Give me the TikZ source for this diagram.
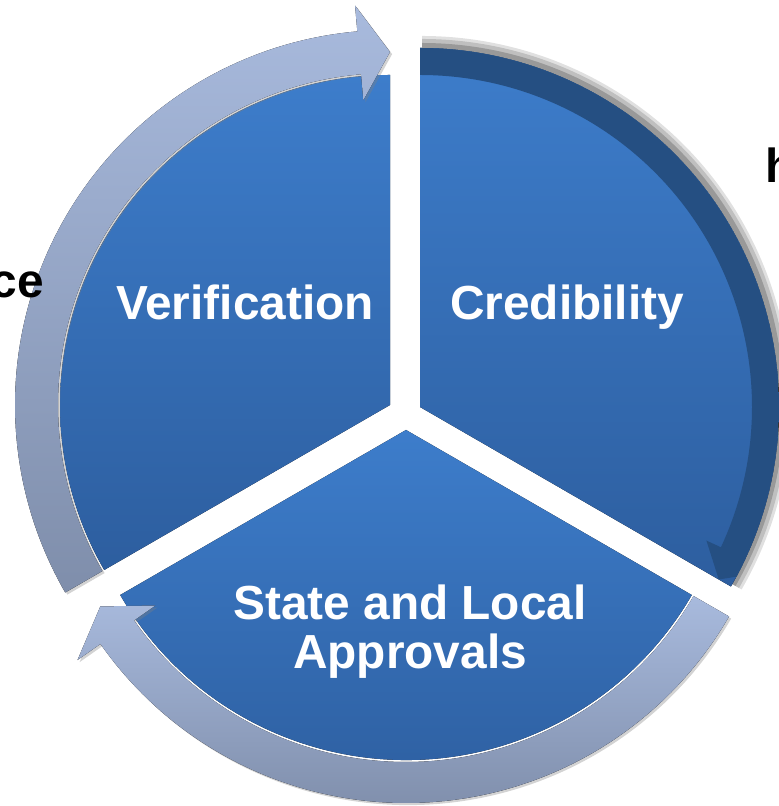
\documentclass[tikz,border=0pt]{standalone}
\usepackage{fontspec}
\setmainfont{Liberation Sans}
\usepackage{tikz}
\usetikzlibrary{calc,shadows}

\definecolor{piecetop}{HTML}{3D7DCB}
\definecolor{piecebot}{HTML}{2D5E9F}
\definecolor{ringtop}{HTML}{A8BADD}
\definecolor{ringbot}{HTML}{7F8EAB}
\definecolor{darkring}{HTML}{254F82}

\begin{document}
\begin{tikzpicture}[x=0.025cm, y=0.025cm,
	piece/.style={top color=piecetop, bottom color=piecebot},
	ring/.style={top color=ringtop, bottom color=ringbot, drop shadow={shadow xshift=1.5pt, shadow yshift=-1.5pt, opacity=0.35}},
	piecetext/.style={text=white, font=\bfseries\fontsize{34}{35}\selectfont, align=center, inner sep=0pt},
	edgetext/.style={text=black, font=\bfseries\fontsize{34}{35}\selectfont, inner sep=0pt}]
	\useasboundingbox (0,0) rectangle (778,806);
	%apexes of the three pieces
	\coordinate (ver) at (390,401);
	\coordinate (cre) at (420,399);
	\coordinate (sta) at (406,376);
	
	%Verification piece
	\begin{scope}[shift={(ver)}]
	\fill[piece] (0,0) -- (90:330) arc[start angle=90, end angle=210, radius=330] -- cycle;
	\fill[ring] (210:332) arc[start angle=210, end angle=95, radius=332] -- (95:306) -- (90:353) -- (95:401) -- (95:375) arc[start angle=95, end angle=210, radius=375] -- cycle;
	\end{scope}
	
	%State and Local piece
	\begin{scope}[shift={(sta)}]
	\fill[piece] (0,0) -- (210:330) arc[start angle=210, end angle=330, radius=330] -- cycle;
	\fill[ring] (330:332) arc[start angle=330, end angle=215, radius=332] -- (215:306) -- (210:353) -- (215:401) -- (215:373) arc[start angle=215, end angle=330, radius=373] -- cycle;
	\end{scope}
	
	%Credibility piece (lifted, with shadow)
	\begin{scope}[shift={(cre)}]
	\foreach \r/\o in {369/0.12, 366/0.15, 362/0.2}
		\fill[black, opacity=\o] (2,2) -- ++(-30:\r) arc[start angle=-30, end angle=90, radius=\r] -- cycle;
	\fill[piece] (0,0) -- (-30:359) arc[start angle=-30, end angle=90, radius=359] -- cycle;
	\begin{scope}
	\clip (0,0) -- (-30:359) arc[start angle=-30, end angle=90, radius=359] -- cycle;
	\fill[darkring] (90:332) arc[start angle=90, end angle=-25, radius=332] -- (-25:316) -- (-30:345) -- (-25:388) -- (-25:359) arc[start angle=-25, end angle=90, radius=359] -- cycle;
	\end{scope}
	\end{scope}
	
	%labels
	\node[piecetext, anchor=base] (verification) at (245,486) {Verification};
	\node[piecetext, anchor=base] (credibility) at (567,486) {Credibility};
	\node[piecetext] (approvals) at (410,174) {State and Local\\Approvals};
	
	%cut words at the edges
	\node[edgetext, anchor=base east] (leftword) at (44,508) {ce};
	\node[edgetext, anchor=base west] (rightword) at (765,623) {h};
\end{tikzpicture}
\end{document}
